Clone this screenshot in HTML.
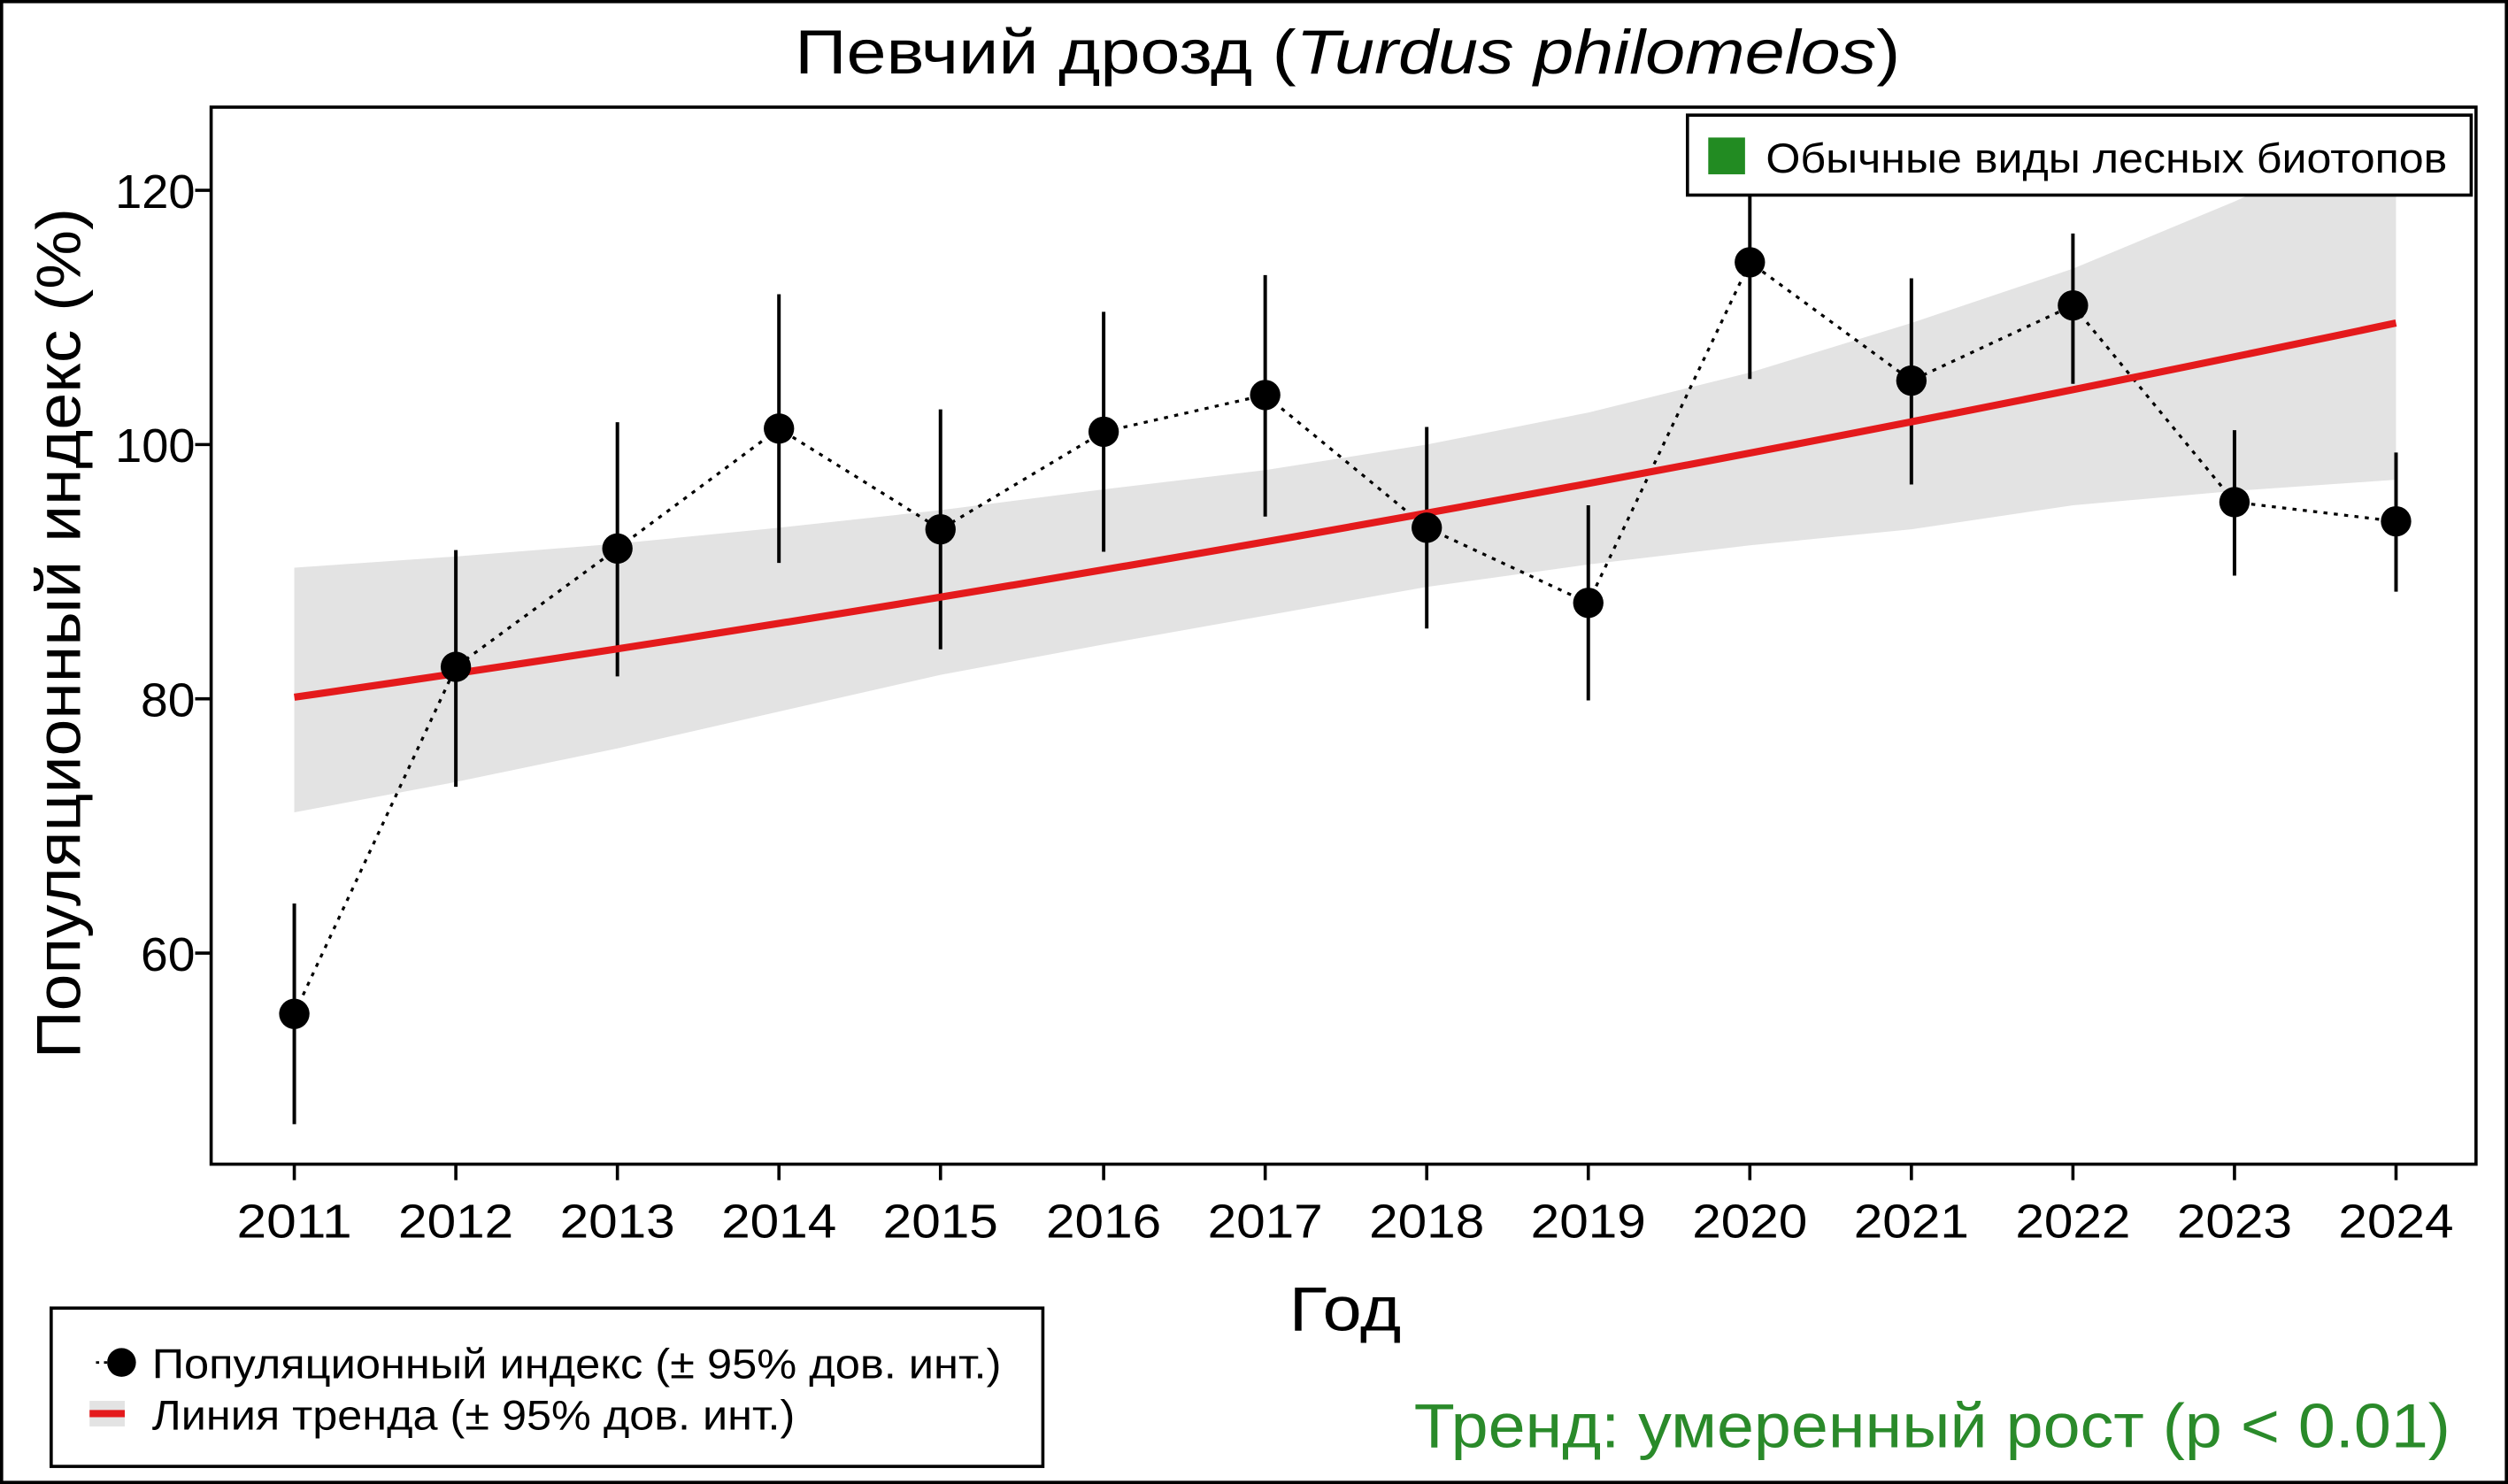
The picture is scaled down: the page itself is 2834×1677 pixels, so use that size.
<!DOCTYPE html>
<html><head><meta charset="utf-8"><style>
html,body{margin:0;padding:0;background:#fff}
svg{display:block}
text{font-family:"Liberation Sans",sans-serif}
</style></head><body>
<svg width="2834" height="1677" viewBox="0 0 1568 928" preserveAspectRatio="none" xmlns="http://www.w3.org/2000/svg">
<rect x="1" y="1" width="1566" height="926" fill="#fff" stroke="#000" stroke-width="2"/>
<defs><clipPath id="c"><rect x="132" y="67" width="1416" height="661"/></clipPath></defs>
<g clip-path="url(#c)">
<polygon points="184,355 285,348 386,340 487,330 588,319 690,306 791,294 892,278 993,258 1094,233 1195,202 1296,168 1397,126 1498,80 1498,300 1397,307 1296,316 1195,331 1094,341 993,353 892,367 791,385 690,403 588,422 487,445 386,468 285,489 184,508" fill="#e3e3e3"/>
<polyline fill="none" stroke="#000" stroke-width="1.8" stroke-dasharray="2.5,4" points="184,634 285,417 386,343 487,268 588,331 690,270 791,247 892,330 993,377 1094,164 1195,238 1296,191 1397,314 1498,326"/>
<g stroke="#000" stroke-width="2.2">
<line x1="184" y1="565" x2="184" y2="703"/><line x1="285" y1="344" x2="285" y2="492"/>
<line x1="386" y1="264" x2="386" y2="423"/><line x1="487" y1="184" x2="487" y2="352"/>
<line x1="588" y1="256" x2="588" y2="406"/><line x1="690" y1="195" x2="690" y2="345"/>
<line x1="791" y1="172" x2="791" y2="323"/><line x1="892" y1="267" x2="892" y2="393"/>
<line x1="993" y1="316" x2="993" y2="438"/><line x1="1094" y1="120" x2="1094" y2="237"/>
<line x1="1195" y1="174" x2="1195" y2="303"/><line x1="1296" y1="146" x2="1296" y2="240"/>
<line x1="1397" y1="269" x2="1397" y2="360"/><line x1="1498" y1="283" x2="1498" y2="370"/>
</g>
<path d="M184,436 Q841,341 1498,202" fill="none" stroke="#e41a1c" stroke-width="4.5"/>
<g fill="#000">
<circle cx="184" cy="634" r="9.5"/><circle cx="285" cy="417" r="9.5"/><circle cx="386" cy="343" r="9.5"/><circle cx="487" cy="268" r="9.5"/><circle cx="588" cy="331" r="9.5"/><circle cx="690" cy="270" r="9.5"/><circle cx="791" cy="247" r="9.5"/><circle cx="892" cy="330" r="9.5"/><circle cx="993" cy="377" r="9.5"/><circle cx="1094" cy="164" r="9.5"/><circle cx="1195" cy="238" r="9.5"/><circle cx="1296" cy="191" r="9.5"/><circle cx="1397" cy="314" r="9.5"/><circle cx="1498" cy="326" r="9.5"/>
</g>
</g>
<rect x="132" y="67" width="1416" height="661" fill="none" stroke="#000" stroke-width="2"/>
<rect x="1055" y="72" width="490" height="50" fill="#fff" stroke="#000" stroke-width="2"/>
<rect x="1068" y="86" width="23" height="23" fill="#228b22"/>
<text x="1104" y="108" font-size="26" textLength="426" lengthAdjust="spacingAndGlyphs">Обычные виды лесных биотопов</text>
<g stroke="#000" stroke-width="2">
<line x1="122" y1="119" x2="132" y2="119"/><line x1="122" y1="278" x2="132" y2="278"/><line x1="122" y1="437" x2="132" y2="437"/><line x1="122" y1="596" x2="132" y2="596"/>
<line x1="184" y1="728" x2="184" y2="738"/><line x1="285" y1="728" x2="285" y2="738"/><line x1="386" y1="728" x2="386" y2="738"/><line x1="487" y1="728" x2="487" y2="738"/><line x1="588" y1="728" x2="588" y2="738"/><line x1="690" y1="728" x2="690" y2="738"/><line x1="791" y1="728" x2="791" y2="738"/><line x1="892" y1="728" x2="892" y2="738"/><line x1="993" y1="728" x2="993" y2="738"/><line x1="1094" y1="728" x2="1094" y2="738"/><line x1="1195" y1="728" x2="1195" y2="738"/><line x1="1296" y1="728" x2="1296" y2="738"/><line x1="1397" y1="728" x2="1397" y2="738"/><line x1="1498" y1="728" x2="1498" y2="738"/>
</g>
<g font-size="30">
<text x="72" y="130" textLength="50" lengthAdjust="spacingAndGlyphs">120</text><text x="72" y="289" textLength="50" lengthAdjust="spacingAndGlyphs">100</text><text x="88" y="448" textLength="34" lengthAdjust="spacingAndGlyphs">80</text><text x="88" y="607" textLength="34" lengthAdjust="spacingAndGlyphs">60</text>
</g>
<g font-size="30">
<text x="148" y="774" textLength="72" lengthAdjust="spacingAndGlyphs">2011</text><text x="249" y="774" textLength="72" lengthAdjust="spacingAndGlyphs">2012</text><text x="350" y="774" textLength="72" lengthAdjust="spacingAndGlyphs">2013</text><text x="451" y="774" textLength="72" lengthAdjust="spacingAndGlyphs">2014</text><text x="552" y="774" textLength="72" lengthAdjust="spacingAndGlyphs">2015</text><text x="654" y="774" textLength="72" lengthAdjust="spacingAndGlyphs">2016</text><text x="755" y="774" textLength="72" lengthAdjust="spacingAndGlyphs">2017</text><text x="856" y="774" textLength="72" lengthAdjust="spacingAndGlyphs">2018</text><text x="957" y="774" textLength="72" lengthAdjust="spacingAndGlyphs">2019</text><text x="1058" y="774" textLength="72" lengthAdjust="spacingAndGlyphs">2020</text><text x="1159" y="774" textLength="72" lengthAdjust="spacingAndGlyphs">2021</text><text x="1260" y="774" textLength="72" lengthAdjust="spacingAndGlyphs">2022</text><text x="1361" y="774" textLength="72" lengthAdjust="spacingAndGlyphs">2023</text><text x="1462" y="774" textLength="72" lengthAdjust="spacingAndGlyphs">2024</text>
</g>
<text x="497" y="46" font-size="39" textLength="691" lengthAdjust="spacingAndGlyphs">Певчий дрозд (<tspan font-style="italic">Turdus philomelos</tspan>)</text>
<text x="806" y="832" font-size="39" textLength="70" lengthAdjust="spacingAndGlyphs">Год</text>
<text transform="translate(50,662) rotate(-90)" font-size="39" textLength="532" lengthAdjust="spacingAndGlyphs">Популяционный индекс (%)</text>
<rect x="32" y="818" width="620" height="99" fill="#fff" stroke="#000" stroke-width="2"/>
<line x1="60" y1="852" x2="82" y2="852" stroke="#000" stroke-width="1.6" stroke-dasharray="2,3"/>
<circle cx="76" cy="852" r="9" fill="#000"/>
<text x="95" y="862" font-size="26" textLength="531" lengthAdjust="spacingAndGlyphs">Популяционный индекс (± 95% дов. инт.)</text>
<rect x="56" y="876" width="22" height="16" fill="#e3e3e3"/>
<line x1="56" y1="884" x2="78" y2="884" stroke="#e41a1c" stroke-width="4.5"/>
<text x="95" y="894" font-size="26" textLength="402" lengthAdjust="spacingAndGlyphs">Линия тренда (± 95% дов. инт.)</text>
<text x="884" y="905" font-size="39" fill="#2a8a2a" textLength="648" lengthAdjust="spacingAndGlyphs">Тренд: умеренный рост (p &lt; 0.01)</text>
</svg>
</body></html>
